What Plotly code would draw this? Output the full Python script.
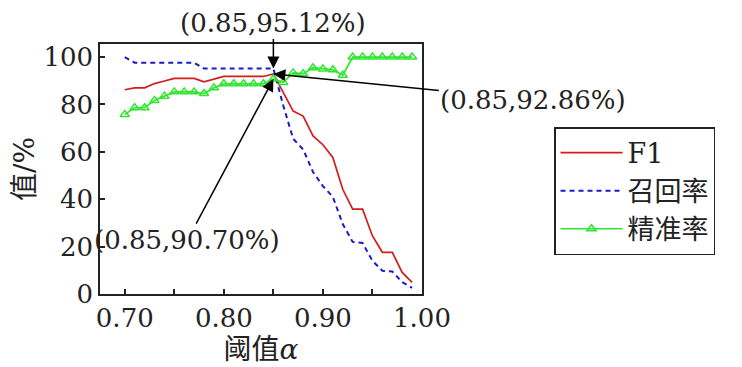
import plotly.graph_objects as go

thresholds = [0.70, 0.71, 0.72, 0.73, 0.74, 0.75, 0.76, 0.77, 0.78, 0.79,
              0.80, 0.81, 0.82, 0.83, 0.84, 0.85, 0.86, 0.87, 0.88, 0.89,
              0.90, 0.91, 0.92, 0.93, 0.94, 0.95, 0.96, 0.97, 0.98, 0.99]
f1 = [86.2, 87.0, 87.0, 88.8, 89.9, 91.0, 91.0, 91.0, 89.5, 90.8,
      91.8, 91.8, 91.8, 91.8, 91.8, 92.86, 85.0, 77.2, 75.1, 66.7,
      63.0, 57.6, 44.2, 35.8, 35.8, 24.5, 17.6, 17.6, 9.1, 4.9]
recall = [100.0, 97.6, 97.6, 97.6, 97.6, 97.6, 97.6, 97.6, 95.12, 95.12,
          95.12, 95.12, 95.12, 95.12, 95.12, 95.12, 79.5, 65.5, 61.0, 51.5,
          45.5, 41.0, 29.5, 22.0, 21.5, 14.0, 9.8, 9.5, 5.0, 2.6]
precision = [75.8, 78.6, 78.6, 81.7, 83.5, 85.3, 85.3, 85.3, 84.6, 87.0,
             88.7, 88.7, 88.7, 88.7, 88.7, 90.70, 89.3, 93.3, 93.0, 95.5,
             95.0, 94.6, 92.3, 100, 100, 100, 100, 100, 100, 100]

x_tickvals = [0.70, 0.75, 0.80, 0.85, 0.90, 0.95, 1.00]
x_ticktext = ["0.70", "", "0.80", "", "0.90", "", "1.00"]
y_tickvals = [0, 20, 40, 60, 80, 100]

FONT = "DejaVu Serif, Noto Sans CJK SC, serif"

fig = go.Figure()
fig.add_trace(go.Scatter(x=thresholds, y=f1, name="F1", mode="lines",
                         line=dict(color="#d41c1c", width=1.7)))
fig.add_trace(go.Scatter(x=thresholds, y=recall, name="召回率", mode="lines",
                         line=dict(color="#1a1acc", width=2, dash="5px,4px")))
fig.add_trace(go.Scatter(x=thresholds, y=precision, name="精准率", mode="lines+markers",
                         line=dict(color="#2ee62e", width=1.7),
                         marker=dict(symbol="triangle-up-open", size=8,
                                     color="#2ee62e", line=dict(width=1.5))))

ann_font = dict(family=FONT, size=26, color="#222")
arrow = dict(showarrow=True, arrowhead=2, arrowsize=1.6, arrowwidth=1.5, arrowcolor="black")
fig.add_annotation(x=0.85, y=95.12, text="(0.85,95.12%)", ax=0, ay=-46,
                   font=ann_font, **arrow)
fig.add_annotation(x=0.85, y=92.86, text="(0.85,92.86%)", ax=260, ay=26,
                   font=ann_font, **arrow)
fig.add_annotation(x=0.85, y=90.70, text="(0.85,90.70%)", ax=-86, ay=161,
                   font=ann_font, **arrow)

axis_common = dict(showline=True, linecolor="#222", linewidth=1.5, mirror=True,
                   ticks="inside", ticklen=5, tickcolor="#222", tickwidth=1.5,
                   showgrid=False, zeroline=False,
                   tickfont=dict(family=FONT, size=26, color="#222"))

fig.update_xaxes(range=[0.675, 1.0], tickvals=x_tickvals, ticktext=x_ticktext,
                 title=dict(text="阈值<i>α</i>", font=dict(family=FONT, size=28, color="#222"),
                            standoff=2),
                 **axis_common)
fig.update_yaxes(range=[0, 105.5], tickvals=y_tickvals,
                 title=dict(text="值/%", font=dict(family=FONT, size=28, color="#222"),
                            standoff=4),
                 **axis_common)

# the page body adds an 8px offset, so the figure is 8px smaller than the window
fig.update_layout(
    width=734, height=359,
    margin=dict(l=85, r=320, t=36, b=72),
    paper_bgcolor="white", plot_bgcolor="white",
    font=dict(family=FONT, color="#222"),
    legend=dict(x=1.41, y=0.668, xanchor="left", yanchor="top",
                bordercolor="#222", borderwidth=1.5,
                font=dict(family=FONT, size=27, color="#222"),
                itemwidth=62, tracegroupgap=0),
    showlegend=True,
)

fig.write_html("out.html")
